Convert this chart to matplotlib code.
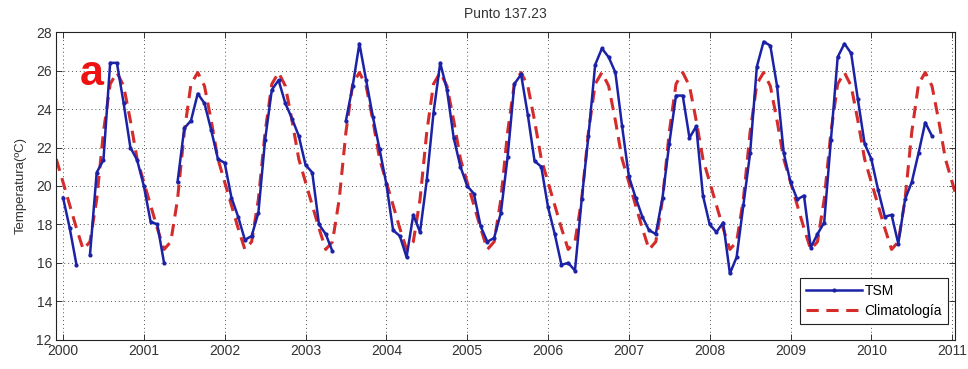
import numpy as np
import matplotlib
matplotlib.use("Agg")
import matplotlib.pyplot as plt

plt.rcParams['font.family'] = ['Liberation Sans', 'DejaVu Sans']

nan = np.nan

# Monthly sea surface temperature (TSM), Jan..Dec of each year
years = [2000, 2001, 2002, 2003, 2004, 2005, 2006, 2007, 2008, 2009, 2010]
tsm_2000 = [19.4, 17.8, 15.9, nan, 16.4, 20.7, 21.35, 26.4, 26.4, 24.3, 22.0, 21.35]
tsm_2001 = [20.0, 18.15, 18.0, 16.0, nan, 20.2, 23.0, 23.4, 24.8, 24.3, 22.9, 21.4]
tsm_2002 = [21.2, 19.4, 18.4, 17.2, 17.4, 18.6, 22.4, 25.0, 25.5, 24.3, 23.5, 22.6]
tsm_2003 = [21.1, 20.7, 18.0, 17.5, 16.6, nan, 23.4, 25.2, 27.4, 25.5, 23.6, 21.9]
tsm_2004 = [20.1, 17.7, 17.4, 16.3, 18.5, 17.6, 20.3, 23.8, 26.4, 25.0, 22.5, 21.0]
tsm_2005 = [20.0, 19.6, 17.9, 17.1, 17.3, 18.6, 21.5, 25.3, 25.8, 23.7, 21.3, 21.0]
tsm_2006 = [18.9, 17.5, 15.9, 16.0, 15.6, 19.3, 22.6, 26.3, 27.15, 26.7, 25.9, 23.1]
tsm_2007 = [20.5, 19.4, 18.4, 17.7, 17.5, 19.4, 22.2, 24.7, 24.7, 22.5, 23.1, 19.5]
tsm_2008 = [18.0, 17.6, 18.1, 15.45, 16.3, 19.0, 21.7, 26.2, 27.5, 27.3, 25.2, 21.7]
tsm_2009 = [20.2, 19.3, 19.5, 16.8, 17.5, 18.1, 22.4, 26.7, 27.4, 26.9, 24.5, 22.2]
tsm_2010 = [21.4, 19.8, 18.4, 18.5, 17.0, 19.3, 20.2, 21.7, 23.3, 22.6, nan, nan]

# Monthly climatology, Jan..Dec
clim_monthly = [20.2, 19.0, 17.8, 16.7, 17.1, 19.3, 22.8, 25.3, 25.9, 25.2, 23.4, 21.4]

year_ticks = list(range(2000, 2012))
temp_ticks = list(range(12, 29, 2))

tsm = np.concatenate([tsm_2000, tsm_2001, tsm_2002, tsm_2003, tsm_2004, tsm_2005,
                      tsm_2006, tsm_2007, tsm_2008, tsm_2009, tsm_2010])
t_tsm = years[0] + np.arange(len(tsm)) / 12.0

# climatology repeated from Dec 1999 to Feb 2011
n_clim = len(years) * 12 + 3
t_clim = years[0] - 1 / 12.0 + np.arange(n_clim) / 12.0
clim = np.array([clim_monthly[(k - 1) % 12] for k in range(n_clim)])

fig = plt.figure(figsize=(9.68, 3.69), dpi=100)
ax = fig.add_axes([0.058, 0.079, 0.929, 0.834])

blue = '#1c22a6'
red = '#d42b2b'
ax.plot(t_tsm, tsm, '-', color=blue, lw=1.8, marker='.', markersize=4, label='TSM', zorder=3)
ax.plot(t_clim, clim, '--', color=red, lw=2.2, dashes=(4, 2.5), label='Climatología', zorder=2)

ax.set_xlim(1999.915, 2011.04)
ax.set_ylim(12, 28)
ax.set_xticks(year_ticks)
ax.set_yticks(temp_ticks)
ax.tick_params(direction='in', top=True, right=True, length=4, width=0.7,
               labelsize=10, colors='#333333', pad=3)
for s in ax.spines.values():
    s.set_linewidth(0.8)
    s.set_color('#222222')
ax.grid(True, color='#555555', linestyle=(0, (1, 3)), lw=0.7)

ax.set_title('Punto 137.23', fontsize=10, color='#333333', pad=10)
ax.set_ylabel('Temperatura(ºC)', fontsize=9.5, color='#333333', labelpad=7)

ax.text(0.039, 0.865, 'a', transform=ax.transAxes, color='#ee1111',
        fontsize=31, fontweight='bold', ha='center', va='center')

leg = ax.legend(loc='lower right', fontsize=10, handlelength=4.0, handletextpad=0.2,
                borderpad=0.45, labelspacing=0.4, fancybox=False, framealpha=1,
                edgecolor='#222222', borderaxespad=0, bbox_to_anchor=(0.992, 0.052))
leg.get_frame().set_linewidth(0.8)

fig.savefig('out.png', dpi=100)
